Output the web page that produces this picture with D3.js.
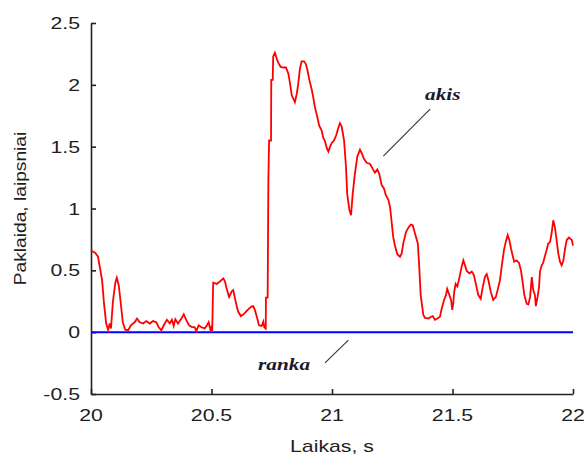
<!DOCTYPE html>
<html>
<head>
<meta charset="utf-8">
<script src="https://cdn.jsdelivr.net/npm/d3@7"></script>
<style>
  html, body { margin: 0; padding: 0; background: #fff; }
  svg { display: block; }
  text { font-family: "Liberation Sans", Arial, sans-serif; fill: #1e1e1e; }
</style>
</head>
<body>
<svg id="chart" width="586" height="457"></svg>
<script>
// Eye tracking error ("akis") over time, seconds
const akisTime = [
  20.000, 20.018, 20.029, 20.039, 20.046, 20.054, 20.063, 20.071, 20.078, 20.083,
  20.091, 20.101, 20.107, 20.115, 20.122, 20.132, 20.142, 20.154, 20.167, 20.181,
  20.191, 20.202, 20.216, 20.229, 20.244, 20.257, 20.271, 20.281, 20.292, 20.303,
  20.315, 20.327, 20.336, 20.343, 20.350, 20.361, 20.375, 20.385, 20.395, 20.407,
  20.419, 20.430, 20.437, 20.447, 20.458, 20.472, 20.481, 20.488, 20.497, 20.501,
  20.503, 20.507, 20.522, 20.535, 20.549, 20.556, 20.563, 20.573, 20.584, 20.590,
  20.598, 20.605, 20.611, 20.622, 20.636, 20.650, 20.664, 20.673, 20.680, 20.688,
  20.697, 20.708, 20.715, 20.719, 20.725, 20.726, 20.733, 20.736, 20.739, 20.747,
  20.748, 20.754, 20.756, 20.763, 20.771, 20.777, 20.787, 20.798, 20.809, 20.819,
  20.826, 20.833, 20.839, 20.846, 20.854, 20.860, 20.867, 20.874, 20.884, 20.891,
  20.898, 20.906, 20.916, 20.922, 20.929, 20.939, 20.947, 20.957, 20.964, 20.971,
  20.978, 20.985, 20.992, 20.999, 21.008, 21.017, 21.026, 21.033, 21.040, 21.050,
  21.058, 21.063, 21.072, 21.079, 21.086, 21.095, 21.105, 21.116, 21.124, 21.133,
  21.144, 21.158, 21.169, 21.178, 21.188, 21.196, 21.206, 21.216, 21.223, 21.234,
  21.241, 21.248, 21.254, 21.261, 21.271, 21.282, 21.289, 21.296, 21.307, 21.317,
  21.327, 21.335, 21.344, 21.356, 21.362, 21.368, 21.379, 21.386, 21.400, 21.411,
  21.418, 21.427, 21.437, 21.448, 21.455, 21.465, 21.473, 21.478, 21.487, 21.494,
  21.499, 21.503, 21.507, 21.513, 21.520, 21.528, 21.538, 21.545, 21.552, 21.559,
  21.570, 21.580, 21.589, 21.598, 21.607, 21.617, 21.625, 21.635, 21.642, 21.649,
  21.659, 21.669, 21.680, 21.687, 21.697, 21.704, 21.714, 21.721, 21.729, 21.736,
  21.743, 21.750, 21.756, 21.766, 21.776, 21.784, 21.790, 21.798, 21.808, 21.815,
  21.822, 21.829, 21.835, 21.842, 21.846, 21.853, 21.859, 21.863, 21.870, 21.876,
  21.884, 21.890, 21.897, 21.905, 21.912, 21.918, 21.925, 21.932, 21.939, 21.946,
  21.953, 21.960, 21.967, 21.974, 21.983, 21.995, 22.000
];
const akisError = [
  0.66, 0.64, 0.61, 0.50, 0.42, 0.23, 0.07, 0.02, 0.07, 0.03,
  0.25, 0.40, 0.44, 0.38, 0.26, 0.08, 0.02, 0.015, 0.06, 0.08,
  0.11, 0.08, 0.07, 0.09, 0.07, 0.09, 0.08, 0.04, 0.015, 0.06,
  0.10, 0.07, 0.10, 0.05, 0.105, 0.07, 0.11, 0.145, 0.10, 0.055,
  0.04, 0.04, 0.01, 0.055, 0.04, 0.03, 0.055, 0.08, 0.01, 0.05,
  0.01, 0.40, 0.39, 0.41, 0.435, 0.41, 0.35, 0.285, 0.33, 0.34,
  0.27, 0.205, 0.165, 0.13, 0.15, 0.18, 0.205, 0.21, 0.18, 0.125,
  0.055, 0.05, 0.085, 0.04, 0.03, 0.28, 0.28, 1.23, 1.55, 1.55,
  2.04, 2.04, 2.23, 2.26, 2.21, 2.18, 2.145, 2.14, 2.14, 2.09,
  2.01, 1.915, 1.89, 1.86, 1.93, 2.01, 2.13, 2.19, 2.19, 2.17,
  2.12, 2.04, 1.96, 1.90, 1.82, 1.74, 1.67, 1.63, 1.57, 1.545,
  1.49, 1.46, 1.50, 1.53, 1.55, 1.59, 1.65, 1.69, 1.665, 1.55,
  1.34, 1.12, 0.99, 0.945, 1.12, 1.28, 1.42, 1.475, 1.445, 1.40,
  1.37, 1.36, 1.32, 1.29, 1.315, 1.28, 1.19, 1.16, 1.11, 1.07,
  1.01, 0.88, 0.77, 0.70, 0.63, 0.61, 0.635, 0.72, 0.81, 0.845,
  0.87, 0.865, 0.80, 0.72, 0.53, 0.30, 0.14, 0.115, 0.11, 0.125,
  0.13, 0.10, 0.11, 0.125, 0.19, 0.26, 0.30, 0.35, 0.30, 0.26,
  0.18, 0.23, 0.325, 0.39, 0.37, 0.435, 0.53, 0.58, 0.54, 0.495,
  0.475, 0.49, 0.46, 0.38, 0.30, 0.27, 0.36, 0.45, 0.47, 0.42,
  0.325, 0.26, 0.285, 0.34, 0.42, 0.53, 0.67, 0.73, 0.785, 0.745,
  0.675, 0.615, 0.57, 0.58, 0.56, 0.50, 0.42, 0.30, 0.23, 0.225,
  0.285, 0.445, 0.34, 0.30, 0.21, 0.285, 0.365, 0.49, 0.54, 0.56,
  0.62, 0.66, 0.715, 0.73, 0.81, 0.905, 0.85, 0.745, 0.635, 0.57,
  0.54, 0.58, 0.675, 0.745, 0.765, 0.745, 0.70
];

// Hand tracking error ("ranka") stays at zero
const rankaTime = [20, 22];
const rankaError = [0, 0];

const xTicks = [20, 20.5, 21, 21.5, 22];
const xTickLabels = ["20", "20.5", "21", "21.5", "22"];
const yTicks = [2.5, 2, 1.5, 1, 0.5, 0, -0.5];
const yTickLabels = ["2.5", "2", "1.5", "1", "0.5", "0", "-0.5"];

// Series labels with leader lines, in data units: [t, value]
const akisLabel = { text: "akis", at: [21.386, 1.876], from: [21.213, 1.423], to: [21.407, 1.803] };
const rankaLabel = { text: "ranka", at: [20.693, -0.307], from: [20.971, -0.248], to: [21.068, -0.065] };

const xTitle = "Laikas, s";
const yTitle = "Paklaida, laipsniai";

const svg = d3.select("#chart");
const wide = 1.33; // horizontal stretch of all lettering

const x = d3.scaleLinear().domain([20, 22]).range([91, 573]);
const y = d3.scaleLinear().domain([-0.5, 2.5]).range([394, 23]);

// Axes with inward ticks
const gx = svg.append("g").attr("transform", `translate(0,${y(-0.5)})`)
  .call(d3.axisBottom(x).tickValues(xTicks).tickSizeInner(-5).tickSizeOuter(0).tickFormat(""));
const gy = svg.append("g").attr("transform", `translate(${x(20)},0)`)
  .call(d3.axisLeft(y).tickValues(yTicks).tickSizeInner(-5).tickSizeOuter(0).tickFormat(""));
[gx, gy].forEach(g => {
  g.select(".domain").attr("stroke", "#222").attr("stroke-width", 1.6);
  g.selectAll(".tick line").attr("stroke", "#222").attr("stroke-width", 1.6);
});

// Tick labels
svg.append("g").selectAll("g").data(xTicks).join("g")
  .attr("transform", d => `translate(${x(d)},${y(-0.5) + 27}) scale(${wide},1)`)
  .append("text").attr("text-anchor", "middle").attr("font-size", 16)
  .text((d, i) => xTickLabels[i]);

svg.append("g").selectAll("g").data(yTicks).join("g")
  .attr("transform", d => `translate(${x(20) - 11},${y(d) + 6}) scale(${wide},1)`)
  .append("text").attr("text-anchor", "end").attr("font-size", 16)
  .text((d, i) => yTickLabels[i]);

// Axis titles
svg.append("g").attr("transform", `translate(${(x(20) + x(22)) / 2},452) scale(${wide},1)`)
  .append("text").attr("text-anchor", "middle").attr("font-size", 16).text(xTitle);
svg.append("g").attr("transform", `translate(26,${(y(-0.5) + y(2.5)) / 2}) rotate(-90) scale(1.2,1)`)
  .append("text").attr("text-anchor", "middle").attr("font-size", 16).text(yTitle);

// Series
const line = d3.line().x(d => x(d[0])).y(d => y(d[1]));
svg.append("path")
  .datum(rankaTime.map((t, i) => [t, rankaError[i]]))
  .attr("d", line).attr("fill", "none").attr("stroke", "#0000ff").attr("stroke-width", 2);
svg.append("path")
  .datum(akisTime.map((t, i) => [t, akisError[i]]))
  .attr("d", line).attr("fill", "none").attr("stroke", "#ff0000").attr("stroke-width", 1.8)
  .attr("stroke-linejoin", "miter");

// Series labels
[akisLabel, rankaLabel].forEach(lb => {
  svg.append("line")
    .attr("x1", x(lb.from[0])).attr("y1", y(lb.from[1]))
    .attr("x2", x(lb.to[0])).attr("y2", y(lb.to[1]))
    .attr("stroke", "#333").attr("stroke-width", 1.1);
  svg.append("g").attr("transform", `translate(${x(lb.at[0])},${y(lb.at[1])}) scale(${wide},1)`)
    .append("text")
    .style("font-family", "'Liberation Serif', 'Times New Roman', serif")
    .attr("font-size", 16).attr("font-style", "italic").attr("font-weight", "bold")
    .style("fill", "#1a1a30")
    .text(lb.text);
});
</script>
</body>
</html>
